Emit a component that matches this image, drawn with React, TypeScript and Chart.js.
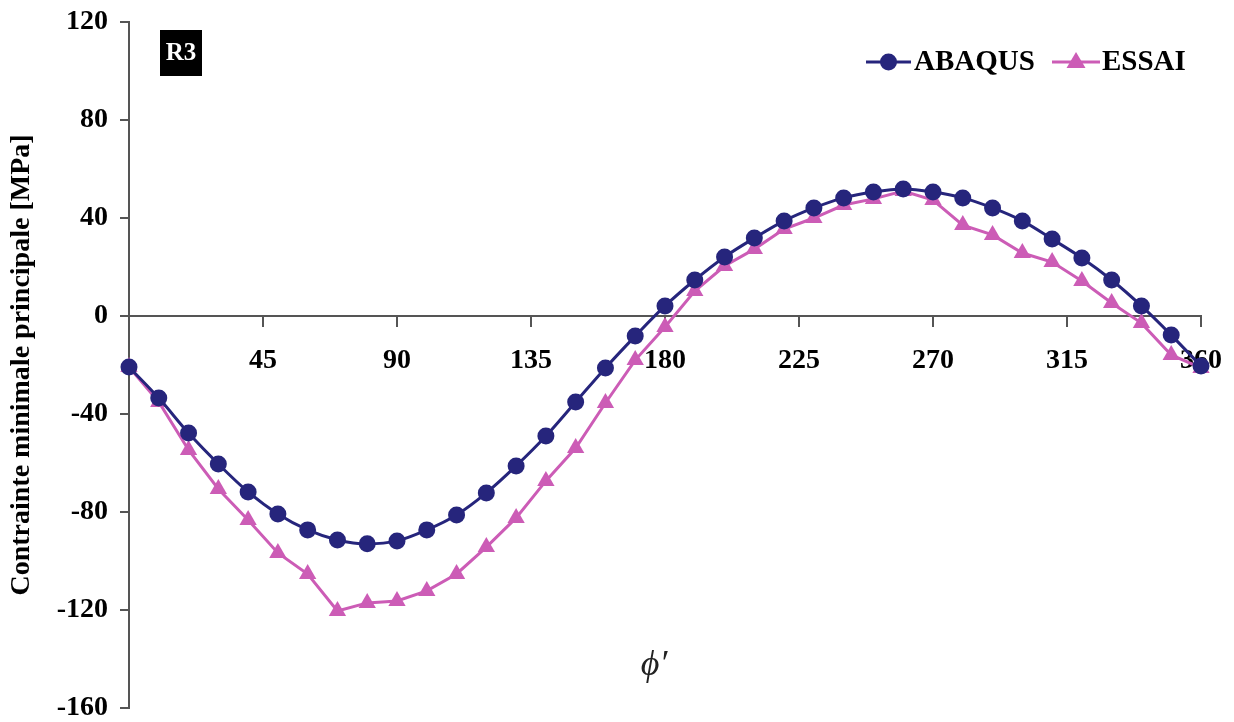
import React, { useEffect, useRef } from "react";
import { Chart, registerables } from "chart.js";

Chart.register(...registerables);

const angles = [0, 10, 20, 30, 40, 50, 60, 70, 80, 90, 100, 110, 120, 130, 140, 150, 160, 170, 180, 190, 200, 210, 220, 230, 240, 250, 260, 270, 280, 290, 300, 310, 320, 330, 340, 350, 360];
const abaqus = [-20.8, -33.5, -47.8, -60.4, -71.8, -80.8, -87.3, -91.4, -93, -91.8, -87.3, -81.2, -72.2, -61.2, -49, -35.1, -21.2, -8.2, 4.1, 14.7, 24.1, 31.8, 38.8, 44.1, 48.2, 50.6, 51.8, 50.6, 48.2, 44.1, 38.8, 31.4, 23.7, 14.7, 4.1, -7.8, -20.4];
const essai = [-20.8, -35.1, -54.7, -70.6, -83.3, -96.7, -105.3, -120.4, -117.1, -116.3, -112.2, -105.3, -94.3, -82.4, -67.3, -53.9, -35.5, -18, -4.5, 10.2, 20.4, 27.3, 35.5, 40, 45.3, 47.8, 51, 47.3, 37.1, 33.1, 25.7, 22, 14.3, 5.3, -2.9, -15.9, -21.2];
const xTicks = [0, 45, 90, 135, 180, 225, 270, 315, 360];
const yTicks = [-160, -120, -80, -40, 0, 40, 80, 120];
const seriesNames = ["ABAQUS", "ESSAI"];
const yTitle = "Contrainte minimale principale [MPa]";
const xTitle = "ϕ′";
const panelTag = "R3";

const NAVY = "#26257c";
const PINK = "#cc5cb6";
const FONT = "'Liberation Serif', 'Times New Roman', serif";

const extras = {
  id: "extras",
  afterDraw(chart: any) {
    const ctx = chart.ctx;
    ctx.save();
    // panel tag
    ctx.fillStyle = "#000";
    ctx.fillRect(160, 30, 42, 46);
    ctx.fillStyle = "#fff";
    ctx.font = `bold 25px ${FONT}`;
    ctx.textAlign = "center";
    ctx.textBaseline = "middle";
    ctx.fillText(panelTag, 181, 54);
    // x title
    ctx.fillStyle = "#222";
    ctx.font = `italic 36px ${FONT}, 'DejaVu Serif'`;
    ctx.fillText(xTitle, 654, 666);
    // legend
    const ds = chart.data.datasets;
    const items = [
      { x0: 866, x1: 911, tx: 914 },
      { x0: 1052, x1: 1100, tx: 1102 },
    ];
    const ly = 62;
    ds.forEach((d: any, i: number) => {
      const it = items[i];
      ctx.strokeStyle = d.borderColor;
      ctx.lineWidth = 3;
      ctx.beginPath();
      ctx.moveTo(it.x0, ly);
      ctx.lineTo(it.x1, ly);
      ctx.stroke();
      const cx = (it.x0 + it.x1) / 2;
      ctx.fillStyle = d.backgroundColor;
      ctx.beginPath();
      if (d.pointStyle === "triangle") {
        const r = 10;
        ctx.moveTo(cx, ly - r);
        ctx.lineTo(cx + r * 0.95, ly + r * 0.6);
        ctx.lineTo(cx - r * 0.95, ly + r * 0.6);
        ctx.closePath();
      } else {
        ctx.arc(cx, ly, 8.5, 0, Math.PI * 2);
      }
      ctx.fill();
      ctx.fillStyle = "#000";
      ctx.font = `bold 29px ${FONT}`;
      ctx.textAlign = "left";
      ctx.textBaseline = "middle";
      ctx.fillText(d.label, it.tx, ly + 1);
    });
    ctx.restore();
  },
};

function App() {
  const ref = useRef<HTMLCanvasElement | null>(null);
  useEffect(() => {
    if (!ref.current) return;
    const tickFont = { family: FONT, size: 28, weight: "bold" as const };
    const chart = new Chart(ref.current, {
      type: "line",
      data: {
        labels: angles,
        datasets: [
          {
            label: seriesNames[0],
            data: angles.map((a, i) => ({ x: a, y: abaqus[i] })),
            borderColor: NAVY,
            backgroundColor: NAVY,
            borderWidth: 3,
            pointStyle: "circle",
            pointRadius: 8.5,
            pointBorderWidth: 0,
            cubicInterpolationMode: "monotone",
            clip: false as any,
          },
          {
            label: seriesNames[1],
            data: angles.map((a, i) => ({ x: a, y: essai[i] })),
            borderColor: PINK,
            backgroundColor: PINK,
            borderWidth: 3,
            pointStyle: "triangle",
            pointRadius: 10,
            pointBorderWidth: 0,
            clip: false as any,
          },
        ],
      },
      options: {
        animation: false,
        responsive: false,
        layout: { padding: { top: 22, bottom: 14, right: 33, left: 0 } },
        plugins: { legend: { display: false }, tooltip: { enabled: false } },
        scales: {
          x: {
            type: "linear",
            min: 0,
            max: 360,
            position: { y: 0 } as any,
            afterBuildTicks: (s: any) => {
              s.ticks = xTicks.map((v) => ({ value: v }));
            },
            afterFit: (s: any) => {
              s.paddingLeft = 0;
              s.paddingRight = 0;
            },
            ticks: {
              font: tickFont,
              color: "#000",
              padding: 18,
              maxRotation: 0,
              autoSkip: false,
              callback: (v: any) => (v === 0 ? "" : String(v)),
            },
            grid: { drawOnChartArea: false, drawTicks: true, tickLength: 10, color: "#555", lineWidth: 2 },
            border: { display: true, color: "#555", width: 2 },
          },
          y: {
            type: "linear",
            min: -160,
            max: 120,
            afterBuildTicks: (s: any) => {
              s.ticks = yTicks.map((v) => ({ value: v }));
            },
            afterFit: (s: any) => {
              s.width = 129;
              s.paddingTop = 0;
              s.paddingBottom = 0;
            },
            ticks: { font: tickFont, color: "#000", padding: 12, autoSkip: false },
            grid: { drawOnChartArea: false, drawTicks: true, tickLength: 9, color: "#555", lineWidth: 2 },
            border: { display: true, color: "#555", width: 2 },
            title: {
              display: true,
              text: yTitle,
              color: "#000",
              font: { family: FONT, size: 28, weight: "bold" },
              padding: { top: 5, bottom: 0 },
            },
          },
        },
      },
      plugins: [extras],
    });
    return () => chart.destroy();
  }, []);
  return (
    <div style={{ position: "fixed", left: 0, top: 0, width: 1234, height: 722, background: "#fff" }}>
      <canvas ref={ref} width={1234} height={722} style={{ width: 1234, height: 722 }} />
    </div>
  );
}

export default App;
